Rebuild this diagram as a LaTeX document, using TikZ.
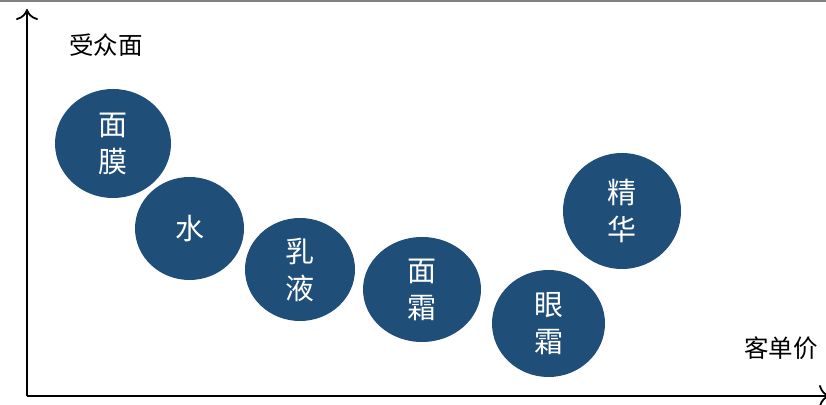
\documentclass[tikz,border=0pt]{standalone}
\usepackage{fontspec}
\setmainfont{Noto Sans CJK SC}
\usetikzlibrary{arrows.meta,shapes.geometric}
\definecolor{bubble}{HTML}{1F4E79}
\begin{document}
\begin{tikzpicture}[x=1pt,y=1pt,
  bub/.style={ellipse, fill=bubble, text=white, inner sep=0pt, font=\fontsize{29}{37}\selectfont, align=center},
  axlabel/.style={font=\fontsize{24.5}{28}\selectfont, inner sep=0pt},
  axisline/.style={line width=2.4pt, -{To[length=11pt,width=22pt,line width=1.8pt]}}]
\useasboundingbox (0,0) rectangle (826,404);
\fill[gray] (0,402) rectangle (826,404);
\coordinate (O) at (27,8);
\coordinate (Ytop) at (27,395);
\coordinate (Xend) at (830,8);
\draw[axisline] (O) -- (Ytop);
\draw[axisline] (O) -- (Xend);
\node[axlabel] (ylab) at (106,359) {受众面};
\node[axlabel] (xlab) at (781,56) {客单价};
\node[bub, minimum width=116pt, minimum height=109pt] (mm) at (113,260.5) {面\\膜};
\node[bub, minimum width=109pt, minimum height=103pt] (sh) at (189.5,175.5) {水};
\node[bub, minimum width=110pt, minimum height=103pt] (ry) at (300,134.5) {乳\\液};
\node[bub, minimum width=118pt, minimum height=105pt] (ms) at (422,114.5) {面\\霜};
\node[bub, minimum width=113pt, minimum height=107pt] (ys) at (548.5,80.5) {眼\\霜};
\node[bub, minimum width=118pt, minimum height=116pt] (jh) at (622,193) {精\\华};
\end{tikzpicture}
\end{document}
